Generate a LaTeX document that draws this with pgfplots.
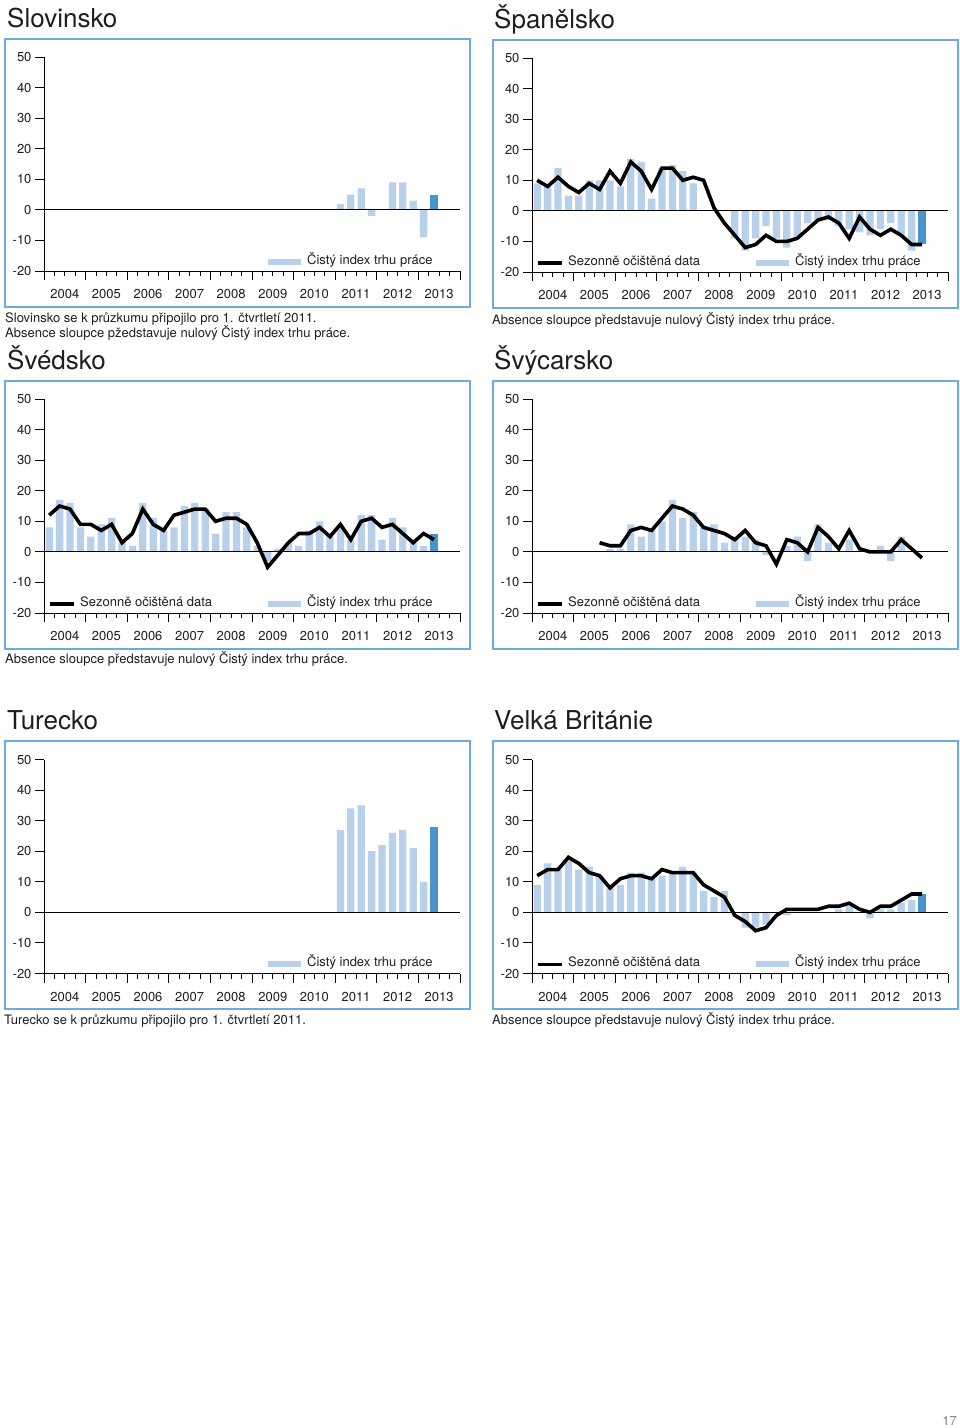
\documentclass[border=0pt]{standalone}
\usepackage{fontspec}
\setmainfont{TeX Gyre Heros}
\usepackage{pgfplots}
\pgfplotsset{compat=1.18}
\definecolor{barlight}{RGB}{184,208,234}
\definecolor{bardark}{RGB}{74,148,204}
\definecolor{framecol}{RGB}{110,170,218}
\definecolor{txt}{RGB}{30,30,30}
\newcommand{\tf}{\fontsize{13}{15}\selectfont}
\newcommand{\titlef}{\fontsize{26}{30}\selectfont}
\pgfplotsset{panel/.style={
  scale only axis, width=416pt, height=214pt, anchor=south west,
  xmin=0, xmax=40, ymin=-20, ymax=50,
  axis x line*=bottom, axis y line*=left,
  axis line style={-, line width=1pt, black},
  tick align=outside,
  major tick length=9pt, minor tick length=5pt,
  every tick/.style={black, line width=1pt},
  ytick={-20,-10,...,50},
  yticklabels={-20,-10,0,10,20,30,40,50},
  xtick={0,4,...,40}, xticklabels={{},{},{},{},{},{},{},{},{},{},{}},
  minor xtick={1,2,...,39},
  extra x ticks={2,6,...,38},
  extra x tick labels={2004,2005,2006,2007,2008,2009,2010,2011,2012,2013},
  extra x tick style={major tick length=0pt, tick style={draw=none}},
  ticklabel style={font=\tf, text=txt},
  xticklabel style={yshift=-15pt},
},
bl/.style={ybar, bar width=7.3pt, bar shift=0pt, fill=barlight, draw=none, forget plot},
bd/.style={ybar, bar width=7.3pt, bar shift=0pt, fill=bardark, draw=none, forget plot},
zl/.style={black, line width=1.2pt, forget plot},
sl/.style={black, line width=3.6pt, line join=miter, mark=none, forget plot}}
\newcommand{\legboth}{%
  \draw[black, line width=3.6pt] (axis cs:0.58,-17) -- (axis cs:2.88,-17);
  \node[anchor=mid west, font=\tf, text=txt, inner sep=0pt] at (axis cs:3.46,-17) {Sezonně očištěná data};
  \fill[barlight] (axis cs:21.5,-17.98) rectangle (axis cs:24.71,-16.02);
  \node[anchor=mid west, font=\tf, text=txt, inner sep=0pt] at (axis cs:25.29,-17) {Čistý index trhu práce};}
\newcommand{\legbar}{%
  \fill[barlight] (axis cs:21.5,-17.98) rectangle (axis cs:24.71,-16.02);
  \node[anchor=mid west, font=\tf, text=txt, inner sep=0pt] at (axis cs:25.29,-17) {Čistý index trhu práce};}
\begin{document}
\begin{tikzpicture}
\path[use as bounding box] (0pt,0pt) rectangle (960pt,-1428pt);
% frames
\draw[framecol, line width=2pt] (5pt,-39pt) rectangle (470pt,-307pt);
\draw[framecol, line width=2pt] (493pt,-40pt) rectangle (958pt,-308pt);
\draw[framecol, line width=2pt] (5pt,-381pt) rectangle (470pt,-649pt);
\draw[framecol, line width=2pt] (493pt,-381pt) rectangle (958pt,-649pt);
\draw[framecol, line width=2pt] (5pt,-741pt) rectangle (470pt,-1009pt);
\draw[framecol, line width=2pt] (493pt,-741pt) rectangle (958pt,-1009pt);
% titles
\node[anchor=base west, font=\titlef, text=txt, inner sep=0pt] at (7pt,-27pt) {Slovinsko};
\node[anchor=base west, font=\titlef, text=txt, inner sep=0pt] at (494pt,-28pt) {Španělsko};
\node[anchor=base west, font=\titlef, text=txt, inner sep=0pt] at (7pt,-369pt) {Švédsko};
\node[anchor=base west, font=\titlef, text=txt, inner sep=0pt] at (494pt,-369pt) {Švýcarsko};
\node[anchor=base west, font=\titlef, text=txt, inner sep=0pt] at (7pt,-729pt) {Turecko};
\node[anchor=base west, font=\titlef, text=txt, inner sep=0pt] at (494pt,-729pt) {Velká Británie};
% notes
\node[anchor=base west, font=\tf, text=txt, inner sep=0pt] at (5pt,-322pt) {Slovinsko se k průzkumu připojilo pro 1. čtvrtletí 2011.};
\node[anchor=base west, font=\tf, text=txt, inner sep=0pt] at (5pt,-337pt) {Absence sloupce pžedstavuje nulový Čistý index trhu práce.};
\node[anchor=base west, font=\tf, text=txt, inner sep=0pt] at (492pt,-324pt) {Absence sloupce představuje nulový Čistý index trhu práce.};
\node[anchor=base west, font=\tf, text=txt, inner sep=0pt] at (5pt,-663pt) {Absence sloupce představuje nulový Čistý index trhu práce.};
\node[anchor=base west, font=\tf, text=txt, inner sep=0pt] at (4pt,-1024pt) {Turecko se k průzkumu připojilo pro 1. čtvrtletí 2011.};
\node[anchor=base west, font=\tf, text=txt, inner sep=0pt] at (492pt,-1024pt) {Absence sloupce představuje nulový Čistý index trhu práce.};
\node[anchor=base east, font=\tf, text=gray, inner sep=0pt] at (957pt,-1425pt) {17};

% ---- Slovinsko
\begin{axis}[panel, at={(44pt,-271pt)}]
\addplot[bl] coordinates {(28.5,2) (29.5,5) (30.5,7) (31.5,-2) (32.5,0) (33.5,9) (34.5,9) (35.5,3) (36.5,-9)};
\addplot[bd] coordinates {(37.5,5)};
\addplot[zl] coordinates {(0,0) (40,0)};
\legbar
\end{axis}

% ---- Spanelsko
\begin{axis}[panel, at={(532pt,-272pt)}]
\addplot[bl] coordinates {(0.5,9) (1.5,8) (2.5,14) (3.5,5) (4.5,5) (5.5,10) (6.5,10) (7.5,10) (8.5,8) (9.5,17) (10.5,16) (11.5,4) (12.5,14) (13.5,15) (14.5,13) (15.5,9) (16.5,0) (17.5,0) (18.5,0) (19.5,-9) (20.5,-13) (21.5,-9) (22.5,-5) (23.5,-9) (24.5,-12) (25.5,-9) (26.5,-4) (27.5,-3) (28.5,-3) (29.5,-5) (30.5,-6) (31.5,-7) (32.5,-8) (33.5,-6) (34.5,-4) (35.5,-8) (36.5,-13)};
\addplot[bd] coordinates {(37.5,-11)};
\addplot[zl] coordinates {(0,0) (40,0)};
\addplot[sl] coordinates {(0.5,10) (1.5,8) (2.5,11) (3.5,8) (4.5,6) (5.5,9) (6.5,7) (7.5,13) (8.5,9) (9.5,16) (10.5,13) (11.5,7) (12.5,14) (13.5,14) (14.5,10) (15.5,11) (16.5,10) (17.5,1) (18.5,-4) (19.5,-8) (20.5,-12) (21.5,-11) (22.5,-8) (23.5,-10) (24.5,-10) (25.5,-9) (26.5,-6) (27.5,-3) (28.5,-2) (29.5,-4) (30.5,-9) (31.5,-2) (32.5,-6) (33.5,-8) (34.5,-6) (35.5,-8) (36.5,-11) (37.5,-11)};
\legboth
\end{axis}

% ---- Svedsko
\begin{axis}[panel, at={(44pt,-613pt)}]
\addplot[bl] coordinates {(0.5,8) (1.5,17) (2.5,16) (3.5,8) (4.5,5) (5.5,9) (6.5,11) (7.5,3) (8.5,2) (9.5,16) (10.5,11) (11.5,7) (12.5,8) (13.5,15) (14.5,16) (15.5,14) (16.5,6) (17.5,13) (18.5,13) (19.5,8) (20.5,2) (21.5,-3) (22.5,1) (23.5,3) (24.5,2) (25.5,7) (26.5,10) (27.5,5) (28.5,8) (29.5,4) (30.5,12) (31.5,12) (32.5,4) (33.5,11) (34.5,8) (35.5,3) (36.5,2)};
\addplot[bd] coordinates {(37.5,6)};
\addplot[zl] coordinates {(0,0) (40,0)};
\addplot[sl] coordinates {(0.5,12) (1.5,15) (2.5,14) (3.5,9) (4.5,9) (5.5,7) (6.5,9) (7.5,3) (8.5,6) (9.5,14) (10.5,9) (11.5,7) (12.5,12) (13.5,13) (14.5,14) (15.5,14) (16.5,10) (17.5,11) (18.5,11) (19.5,9) (20.5,3) (21.5,-5) (22.5,-1) (23.5,3) (24.5,6) (25.5,6) (26.5,8) (27.5,5) (28.5,9) (29.5,4) (30.5,10) (31.5,11) (32.5,8) (33.5,9) (34.5,6) (35.5,3) (36.5,6) (37.5,4)};
\legboth
\end{axis}

% ---- Svycarsko
\begin{axis}[panel, at={(532pt,-613pt)}]
\addplot[bl] coordinates {(7.5,1) (8.5,1) (9.5,9) (10.5,5) (11.5,7) (12.5,10) (13.5,17) (14.5,11) (15.5,13) (16.5,8) (17.5,9) (18.5,3) (19.5,4) (20.5,5) (21.5,4) (22.5,-1) (23.5,0) (24.5,2) (25.5,5) (26.5,-3) (27.5,9) (28.5,3) (29.5,0) (30.5,4) (31.5,0) (32.5,0) (33.5,2) (34.5,-3) (35.5,5) (36.5,0)};
\addplot[zl] coordinates {(0,0) (40,0)};
\addplot[sl] coordinates {(6.5,3) (7.5,2) (8.5,2) (9.5,7) (10.5,8) (11.5,7) (12.5,11) (13.5,15) (14.5,14) (15.5,12) (16.5,8) (17.5,7) (18.5,6) (19.5,4) (20.5,7) (21.5,3) (22.5,2) (23.5,-4) (24.5,4) (25.5,3) (26.5,0) (27.5,8) (28.5,5) (29.5,1) (30.5,7) (31.5,1) (32.5,0) (33.5,0) (34.5,0) (35.5,4) (36.5,1) (37.5,-2)};
\legboth
\end{axis}

% ---- Turecko
\begin{axis}[panel, at={(44pt,-973.5pt)}]
\addplot[bl] coordinates {(28.5,27) (29.5,34) (30.5,35) (31.5,20) (32.5,22) (33.5,26) (34.5,27) (35.5,21) (36.5,10)};
\addplot[bd] coordinates {(37.5,28)};
\addplot[zl] coordinates {(0,0) (40,0)};
\legbar
\end{axis}

% ---- Velka Britanie
\begin{axis}[panel, at={(532pt,-973.5pt)}]
\addplot[bl] coordinates {(0.5,9) (1.5,16) (2.5,14) (3.5,17) (4.5,14) (5.5,15) (6.5,12) (7.5,8) (8.5,9) (9.5,13) (10.5,13) (11.5,11) (12.5,12) (13.5,13) (14.5,15) (15.5,13) (16.5,7) (17.5,5) (18.5,7) (19.5,0) (20.5,-5) (21.5,-5) (22.5,-4) (23.5,0) (24.5,-1) (25.5,0) (26.5,0) (27.5,0) (28.5,0) (29.5,1) (30.5,2) (31.5,0) (32.5,-2) (33.5,1) (34.5,1) (35.5,3) (36.5,4)};
\addplot[bd] coordinates {(37.5,6)};
\addplot[zl] coordinates {(0,0) (40,0)};
\addplot[sl] coordinates {(0.5,12) (1.5,14) (2.5,14) (3.5,18) (4.5,16) (5.5,13) (6.5,12) (7.5,8) (8.5,11) (9.5,12) (10.5,12) (11.5,11) (12.5,14) (13.5,13) (14.5,13) (15.5,13) (16.5,9) (17.5,7) (18.5,5) (19.5,-1) (20.5,-3) (21.5,-6) (22.5,-5) (23.5,-1) (24.5,1) (25.5,1) (26.5,1) (27.5,1) (28.5,2) (29.5,2) (30.5,3) (31.5,1) (32.5,0) (33.5,2) (34.5,2) (35.5,4) (36.5,6) (37.5,6)};
\legboth
\end{axis}
\end{tikzpicture}
\end{document}
